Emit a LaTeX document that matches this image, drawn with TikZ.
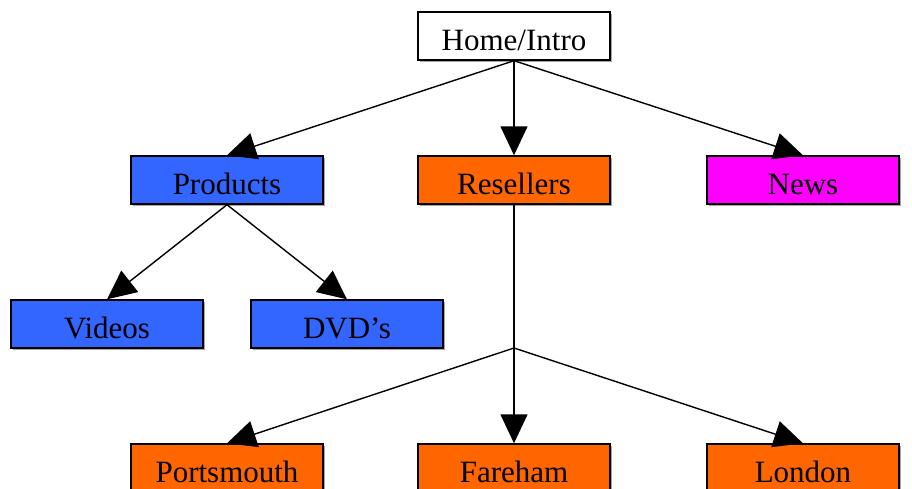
\documentclass[tikz,border=0pt]{standalone}
\usepackage{fontspec}
\setmainfont{Liberation Serif}
\usetikzlibrary{arrows.meta,% for the Triangle tips
                shadows}% for the grey edge under each box

\definecolor{prodblue}{RGB}{51,102,255}
\definecolor{sellorange}{RGB}{255,102,0}
\definecolor{newspink}{RGB}{255,0,255}

\begin{document}
\begin{tikzpicture}[
  x=1pt, y=-1pt,
  page/.style={
    rectangle,
    minimum width=192pt,
    minimum height=48pt,
    line width=1.4pt,
    draw=black,
    fill=white,
    drop shadow={shadow xshift=1.5pt, shadow yshift=-1.5pt,
                 fill=black!35, opacity=1}, % thin grey edge
    text height=28pt, text depth=0pt, % sits the words a bit low
    font=\fontsize{31}{36}\selectfont
  },
  prodpage/.style={page,fill=prodblue},
  sellpage/.style={page,fill=sellorange},
  newspage/.style={page,fill=newspink},
  link/.style={line width=1.4pt,-{Triangle[length=29pt,width=27pt]}}
]
\useasboundingbox (0,0) rectangle (912,488);

% Top:
\node (home)       [page]     at (514,36)  {Home/Intro};
% Second row:
\node (products)   [prodpage] at (227,180) {Products};
\node (resellers)  [sellpage] at (514,180) {Resellers};
\node (news)       [newspage] at (803,180) {News};
% Under the products:
\node (videos)     [prodpage] at (107,324) {Videos};
\node (dvds)       [prodpage] at (347,324) {DVD’s};
% Under the resellers:
\coordinate (split) at (514,348);
\node (portsmouth) [sellpage] at (227,468) {Portsmouth};
\node (fareham)    [sellpage] at (514,468) {Fareham};
\node (london)     [sellpage] at (803,468) {London};

\draw[link] (home.south) -- (products.north);
\draw[link] (home.south) -- (resellers.north);
\draw[link] (home.south) -- (news.north);

\draw[link] (products.south) -- (videos.north);
\draw[link] (products.south) -- (dvds.north);

\draw[line width=1.4pt] (resellers.south) -- (split);
\draw[link] (split) -- (portsmouth.north);
\draw[link] (split) -- (fareham.north);
\draw[link] (split) -- (london.north);
\end{tikzpicture}
\end{document}
